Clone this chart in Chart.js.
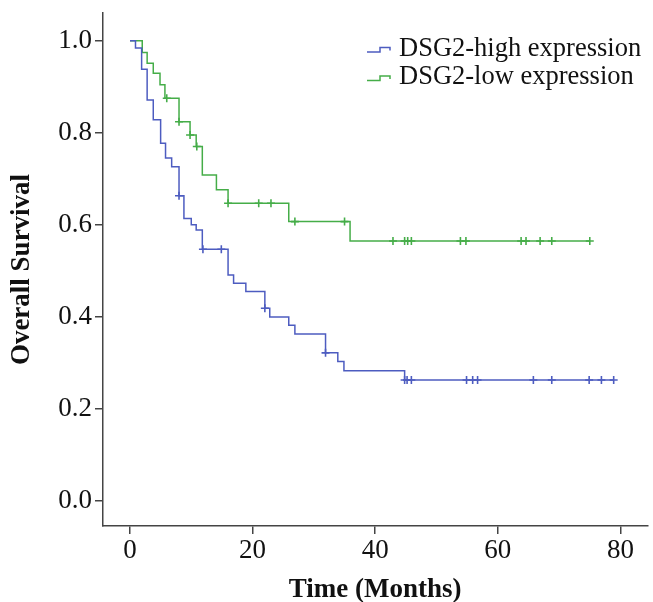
<!DOCTYPE html>
<html>
<head>
<meta charset="utf-8">
<script src="https://cdn.jsdelivr.net/npm/chart.js@4"></script>
<style>
  html, body { margin: 0; padding: 0; background: #fff; }
  #wrap { width: 653px; height: 602px; }
</style>
</head>
<body>
<div id="wrap"><canvas id="km" width="653" height="602"></canvas></div>
<script>
// Axis ticks
const xTicks = [0, 20, 40, 60, 80];
const yTicks = [0, 0.2, 0.4, 0.6, 0.8, 1.0];

// Series names
const seriesNames = ['DSG2-high expression', 'DSG2-low expression'];

// DSG2-high: event times (months) and survival after each step
const highTimes = [0, 0.9, 1.9, 2.8, 3.8, 5.0, 5.8, 6.8, 8.0, 8.8, 10.0, 10.8, 11.8, 16.0, 16.9, 18.9, 22.0, 22.8, 25.9, 26.9, 31.9, 33.9, 34.9, 44.8, 78.9];
const highSurv  = [1.0, 0.984, 0.938, 0.871, 0.828, 0.777, 0.745, 0.726, 0.663, 0.614, 0.600, 0.589, 0.547, 0.491, 0.473, 0.455, 0.419, 0.400, 0.382, 0.363, 0.322, 0.303, 0.283, 0.263, 0.263];
// DSG2-high: censored observations (months)
const highCensored = [8.0, 11.9, 14.9, 22.0, 31.9, 44.8, 45.2, 45.9, 54.9, 55.9, 56.7, 65.8, 68.8, 74.9, 76.9, 78.9];

// DSG2-low: event times (months) and survival after each step
const lowTimes = [0, 2.0, 2.8, 3.8, 4.9, 5.7, 8.0, 9.8, 10.8, 11.8, 14.1, 16.0, 25.9, 35.9, 75.0];
const lowSurv  = [1.0, 0.974, 0.951, 0.929, 0.904, 0.875, 0.824, 0.795, 0.770, 0.708, 0.676, 0.647, 0.607, 0.565, 0.565];
// DSG2-low: censored observations (months)
const lowCensored = [6.0, 8.0, 9.8, 10.9, 16.0, 21.0, 23.0, 26.9, 35.0, 42.9, 44.8, 45.3, 45.9, 53.9, 54.8, 63.8, 64.6, 66.9, 68.8, 75.0];

const BLUE = '#4d5cc0';
const GREEN = '#45ad48';
const SERIF = "'Liberation Serif', 'Times New Roman', serif";

// survival level of a step curve at time t
function survivalAt(times, surv, t) {
  let s = surv[0];
  for (let i = 0; i < times.length; i++) {
    if (times[i] <= t + 1e-9) s = surv[i];
  }
  return s;
}

const curve = (times, surv) => times.map((t, i) => ({ x: t, y: surv[i] }));
const marks = (cens, times, surv) => cens.map(t => ({ x: t, y: survivalAt(times, surv, t) }));

// legend drawn inside the plot, with a small step glyph per series
const stepLegend = {
  id: 'stepLegend',
  afterDraw(chart) {
    const c = chart.ctx;
    const area = chart.chartArea;
    c.save();
    c.font = '26.5px ' + SERIF;
    c.textBaseline = 'middle';
    c.textAlign = 'left';
    [0, 1].forEach(i => {
      const ds = chart.data.datasets[i];
      const cy = area.top + 36 + i * 28.5;
      const x0 = area.left + 264;
      c.strokeStyle = ds.borderColor;
      c.lineWidth = 1.5;
      c.beginPath();
      c.moveTo(x0, cy + 3);
      c.lineTo(x0 + 13, cy + 3);
      c.lineTo(x0 + 13, cy - 1.5);
      c.lineTo(x0 + 23, cy - 1.5);
      c.lineTo(x0 + 23, cy + 1.5);
      c.stroke();
      c.fillStyle = '#111';
      c.fillText(ds.label, x0 + 32, cy);
    });
    c.restore();
  }
};

new Chart(document.getElementById('km'), {
  type: 'line',
  data: {
    datasets: [
      { label: seriesNames[0], data: curve(highTimes, highSurv), borderColor: BLUE, stepped: true,
        pointRadius: 0, borderWidth: 1.5, fill: false },
      { label: seriesNames[1], data: curve(lowTimes, lowSurv), borderColor: GREEN, stepped: true,
        pointRadius: 0, borderWidth: 1.5, fill: false },
      { label: seriesNames[0] + ' censored', data: marks(highCensored, highTimes, highSurv), showLine: false,
        pointStyle: 'cross', pointRadius: 4, pointBorderWidth: 1.6, borderColor: BLUE, backgroundColor: BLUE },
      { label: seriesNames[1] + ' censored', data: marks(lowCensored, lowTimes, lowSurv), showLine: false,
        pointStyle: 'cross', pointRadius: 4, pointBorderWidth: 1.6, borderColor: GREEN, backgroundColor: GREEN }
    ]
  },
  options: {
    responsive: false,
    animation: false,
    devicePixelRatio: 1,
    layout: { padding: { top: 13, right: 5, left: 0, bottom: 0 } },
    plugins: { legend: { display: false }, tooltip: { enabled: false } },
    scales: {
      x: {
        type: 'linear', min: -4.4, max: 84.4,
        afterBuildTicks: s => { s.ticks = xTicks.map(v => ({ value: v })); },
        afterFit: s => { s.height = 76; },
        grid: { drawOnChartArea: false, drawTicks: true, tickLength: 8, color: '#444', lineWidth: 1.5 },
        border: { display: true, color: '#444', width: 1.5 },
        ticks: { font: { family: SERIF, size: 27, lineHeight: 1.15 }, color: '#111', padding: 1,
                 maxRotation: 0, autoSkip: false },
        title: { display: true, text: 'Time (Months)', color: '#111',
                 font: { family: SERIF, size: 27, weight: 'bold', lineHeight: 1 }, padding: { top: 0, bottom: -2 } }
      },
      y: {
        type: 'linear', min: -0.054, max: 1.06,
        afterBuildTicks: s => { s.ticks = yTicks.map(v => ({ value: v })); },
        afterFit: s => { s.width = 103; s.paddingTop = 0; s.paddingBottom = 0; },
        grid: { drawOnChartArea: false, drawTicks: true, tickLength: 8, color: '#444', lineWidth: 1.5 },
        border: { display: true, color: '#444', width: 1.5 },
        ticks: { font: { family: SERIF, size: 27, lineHeight: 0.5 }, color: '#111', padding: 3,
                 callback: v => Number(v).toFixed(1) },
        title: { display: true, text: 'Overall Survival', color: '#111',
                 font: { family: SERIF, size: 27, weight: 'bold', lineHeight: 1 }, padding: { top: 9, bottom: 0 } }
      }
    }
  },
  plugins: [stepLegend]
});
</script>
</body>
</html>
